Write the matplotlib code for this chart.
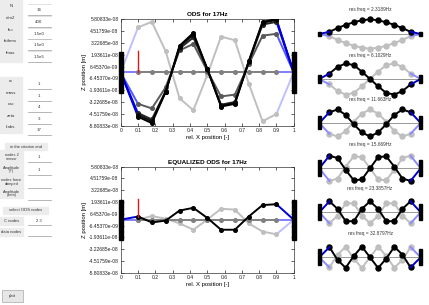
import matplotlib
matplotlib.use("Agg")
import matplotlib.pyplot as plt
import numpy as np
from matplotlib.patches import Rectangle

W, H = 429, 305
plt.rcParams['font.family'] = ['Liberation Sans', 'DejaVu Sans']

# ---------------- data ----------------
x_nodes = [0.0, 0.1, 0.18, 0.26, 0.34, 0.42, 0.5, 0.58, 0.66, 0.74, 0.82, 0.9, 1.0]
y_limit = 5.80833e-08
y_ticks = list(np.linspace(-y_limit, y_limit, 10))
x_ticks = [0, 0.1, 0.2, 0.3, 0.4, 0.5, 0.6, 0.7, 0.8, 0.9, 1]
x_ticklabels = ['0', '0.1', '0.2', '0.3', '0.4', '0.5', '0.6', '0.7', '0.8', '0.9', '1']

# ODS snapshots (units 1e-8 m); drawn light -> dark
ods_gray_levels = [0.75, 0.5, 0.35, 0.15, 0.05, 0.0]
ods_lines = [
    [0, 4.9, 5.5, 2.3, -2.8, -4.1, -0.3, 3.9, 3.5, -1.2, -5.3, -4.5, 0],
    [0, 0, 0, 0, 0, 0, 0, 0, 0, 0, 0, 0, 0],
    [0, -3.4, -3.9, -1.6, 2.4, 3.1, 0.2, -2.6, -2.4, 0.9, 4.0, 4.2, 0],
    [0, -4.4, -5.1, -2.0, 2.6, 3.8, 0.4, -3.5, -3.2, 1.1, 5.2, 5.5, 0],
    [0, -4.6, -5.3, -2.1, 2.8, 4.1, 0.4, -3.6, -3.3, 1.2, 5.4, 5.7, 0],
    [0, -4.8, -5.5, -2.1, 2.9, 4.3, 0.4, -3.7, -3.4, 1.2, 5.5, 5.8, 0],
]
force_top = 2.3   # red force marker (1e-8 m)

eq_gray_levels = [0.75, 0.5, 0.0]
eq_lines = [
    [0, 0.0, 0.4, 0.1, -0.4, -1.1, 0.0, 1.2, 1.1, -0.4, -1.3, -1.6, 0],
    [0, 0, 0, 0, 0, 0, 0, 0, 0, 0, 0, 0, 0],
    [0, 0.35, -0.3, -0.1, 1.0, 1.3, 0.2, -1.1, -1.1, 0.35, 1.6, 1.7, 0],
]
eq_force_top = 2.3

mode_freqs = ["2.3189", "6.1029", "11.663", "15.669", "23.3857", "32.8797"]
mode_shapes = [
    [0, 0.15, 0.4, 0.62, 0.8, 0.93, 1.0, 0.93, 0.8, 0.62, 0.4, 0.15, 0],
    [0, 0.35, 0.78, 1.0, 0.9, 0.47, 0.0, -0.47, -0.9, -1.0, -0.78, -0.35, 0],
    [0, 0.8, 1.0, 0.6, -0.1, -0.7, -1.0, -0.7, -0.1, 0.6, 1.0, 0.8, 0],
    [0, 0.95, 0.77, -0.12, -0.9, -0.84, 0.0, 0.84, 0.9, 0.12, -0.77, -0.95, 0],
    [0, 1.0, 0.31, -0.81, -0.81, 0.31, 1.0, 0.31, -0.81, -0.81, 0.31, 1.0, 0],
    [0, 0.95, -0.25, -0.98, 0.12, 1.0, 0.0, -1.0, -0.12, 0.98, 0.25, -0.95, 0],
]

left_labels_1 = ["N", "c/m2", "fs=", "fsthrns", "fmax"]
left_values_1 = ["16", "400", "1.5e0", "1.5e0", "1.5e5"]
left_labels_2 = ["cc", "mass", "cac", "zeta", "f.abs"]
left_values_2 = ["1", "1", "4", "3", "17"]

# ---------------- figure ----------------
fig = plt.figure(figsize=(W / 100, H / 100), dpi=100)
fig.patch.set_facecolor('white')


def rect(x0, y0, x1, y1):
    return [x0 / W, 1 - y1 / H, (x1 - x0) / W, (y1 - y0) / H]


def end_color(g):
    if g <= 0.06:
        return (0, 0, 0.85)
    return (g, g, 1.0)


def main_axes(box, lines, levels, ftop, fbase, title):
    ax = fig.add_axes(rect(*box))
    ax.set_xlim(0, 1)
    ax.set_ylim(-y_limit, y_limit)
    for vals, g in zip(lines, levels):
        v = np.array(vals) * 1e-8
        col = (g, g, g)
        ax.plot(x_nodes[1:-1], v[1:-1], '-o', color=col, lw=1.4, ms=2.6, zorder=3)
        bl = end_color(g)
        ax.plot(x_nodes[:2], v[:2], '-', color=bl, lw=1.4, zorder=2.5)
        ax.plot(x_nodes[-2:], v[-2:], '-', color=bl, lw=1.4, zorder=2.5)
    ax.plot([0.1, 0.1], [fbase * 1e-8, ftop * 1e-8], color=(0.85, 0.1, 0.1), lw=1.0, zorder=4)
    ax.add_patch(Rectangle((-0.012, -2.2e-8), 0.024, 4.4e-8, color='k', zorder=5, clip_on=False))
    ax.add_patch(Rectangle((1 - 0.012, -2.2e-8), 0.024, 4.4e-8, color='k', zorder=5, clip_on=False))
    ax.set_xticks(x_ticks)
    ax.set_xticklabels(x_ticklabels)
    ax.set_yticks(y_ticks)
    ax.set_yticklabels(['%.5e' % t for t in y_ticks])
    ax.tick_params(direction='in', length=2, width=0.5, labelsize=3.6, pad=1.5,
                   top=True, right=True, colors='#222222')
    for s in ax.spines.values():
        s.set_linewidth(0.5)
        s.set_color('#333333')
    ax.set_xlabel('rel. X position [-]', fontsize=4.3, labelpad=1.5)
    ax.set_ylabel('Z position [m]', fontsize=4.3, labelpad=1)
    ax.set_title(title, fontsize=4.6, fontweight='bold', pad=2)
    return ax


main_axes((120.7, 19, 293.7, 126), ods_lines, ods_gray_levels, force_top, 0.0, 'ODS for 17Hz')
main_axes((120.7, 166.7, 293.7, 272.7), eq_lines, eq_gray_levels, eq_force_top, eq_lines[-1][1],
          'EQUALIZED ODS for 17Hz')

# mode shape mini plots
centers = [34, 79, 123, 168.3, 212.3, 257.3]
bar_half = [2.0, 4.0, 6.5, 8.0, 8.0, 8.0]
amp_px = [14.7, 15.5, 13.5, 13.3, 11.0, 10.7]
for k, (c, fq) in enumerate(zip(centers, mode_freqs)):
    ax = fig.add_axes(rect(319.3, c - 20, 420.7, c + 20))
    ax.set_xlim(0, 1)
    ax.set_ylim(-20, 20)
    ax.axis('off')
    v = np.array(mode_shapes[k]) * amp_px[k]
    ax.axhline(0, color='#888888', lw=0.6, zorder=1)
    ax.plot(x_nodes[1:-1], -v[1:-1], '-o', color=(0.75, 0.75, 0.75), lw=1.4, ms=3.6, zorder=2)
    ax.plot(x_nodes[:2], -v[:2], color=(0.55, 0.55, 1.0), lw=1.4, zorder=2)
    ax.plot(x_nodes[-2:], -v[-2:], color=(0.55, 0.55, 1.0), lw=1.4, zorder=2)
    ax.plot(x_nodes[1:-1], v[1:-1], '-o', color='k', lw=1.4, ms=3.6, zorder=3)
    ax.plot(x_nodes[:2], v[:2], color=(0, 0, 0.8), lw=1.4, zorder=3)
    ax.plot(x_nodes[-2:], v[-2:], color=(0, 0, 0.8), lw=1.4, zorder=3)
    for xe in (0, 1):
        ax.add_patch(Rectangle((xe - 0.012, -bar_half[k]), 0.024, 2 * bar_half[k],
                               color='k', zorder=4, clip_on=False))
    fig.text(370 / W, 1 - (c - 24) / H, 'res freq = %sHz' % fq, fontsize=3.4,
             ha='center', va='center', color='#333333')

# ---------------- left UI panel ----------------
ui = fig.add_axes([0, 0, 1, 1])
ui.set_xlim(0, W)
ui.set_ylim(H, 0)
ui.axis('off')
ui.set_zorder(-1)

LBL = '#ececec'
ui.add_patch(Rectangle((0, 0), 21.7, 61.7, color=LBL))
for i, (lab, val) in enumerate(zip(left_labels_1, left_values_1)):
    y = 6 + i * 11.8
    ui.text(11, y, lab, fontsize=3.2, ha='center', va='center', color='#333333')
    ui.text(39, y + 4, val, fontsize=3.2, ha='center', va='center', color='#333333')
    ui.plot([28, 51], [y + 9, y + 9], color='#999999', lw=0.5)
    ui.plot([28, 51], [y - 2, y - 2], color='#cccccc', lw=0.4)

ui.add_patch(Rectangle((0, 76.7), 21.7, 56.6, color=LBL))
for i, (lab, val) in enumerate(zip(left_labels_2, left_values_2)):
    y = 81 + i * 11.6
    ui.text(11, y, lab, fontsize=3.2, ha='center', va='center', color='#333333')
    ui.text(39, y + 3, val, fontsize=3.2, ha='center', va='center', color='#333333')
    ui.plot([28, 51], [y + 8, y + 8], color='#999999', lw=0.5)

ui.add_patch(Rectangle((5, 143), 42, 7, color=LBL))
ui.text(26, 146.7, 'in the citation and', fontsize=3.0, ha='center', va='center', color='#333333')

ui.add_patch(Rectangle((0, 150), 23.3, 48.3, color=LBL))
for y, t in [(157, 'nodes 2\nsensor'), (169.5, 'Amplitude\n(F)'), (182, 'nodes force\ndamped'), (193.5, 'Amplitude\n(zeta)')]:
    ui.text(11.5, y, t, fontsize=2.8, ha='center', va='center', color='#333333', linespacing=0.9)
for y, t in [(156.7, '1'), (170, '1'), (183, ''), (195, '')]:
    ui.text(39, y, t, fontsize=3.2, ha='center', va='center', color='#333333')
    ui.plot([28, 51], [y + 5, y + 5], color='#999999', lw=0.5)

ui.add_patch(Rectangle((3, 206.5), 45, 7, color=LBL))
ui.text(25.5, 210, 'select ODS nodes', fontsize=3.0, ha='center', va='center', color='#333333')
ui.add_patch(Rectangle((0, 217), 23.3, 7.5, color=LBL))
ui.text(11.5, 220.7, 'C nodes', fontsize=3.0, ha='center', va='center', color='#333333')
ui.text(39, 220.7, '2 3', fontsize=3.0, ha='center', va='center', color='#333333')
ui.plot([28, 51], [225, 225], color='#999999', lw=0.5)
ui.add_patch(Rectangle((0, 228), 23.3, 7.5, color=LBL))
ui.text(11.5, 231.7, 'data nodes', fontsize=3.0, ha='center', va='center', color='#333333')
ui.plot([28, 51], [236, 236], color='#999999', lw=0.5)

ui.add_patch(Rectangle((1.7, 290), 21.6, 11.7, facecolor='#e6e6e6', edgecolor='#aaaaaa', lw=0.5))
ui.text(12.5, 296, 'plot', fontsize=3.2, ha='center', va='center', color='#333333')

fig.savefig('out.png', dpi=100)
